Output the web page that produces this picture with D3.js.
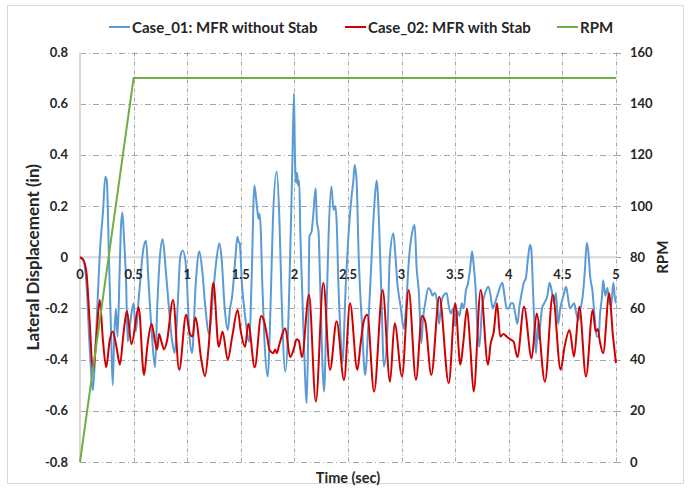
<!DOCTYPE html>
<html>
<head>
<meta charset="utf-8">
<script src="https://cdn.jsdelivr.net/npm/d3@7"></script>
<style>
  html, body { margin: 0; padding: 0; background: #fff; }
  svg { display: block; }
  text { font-family: Lato, "Open Sans", sans-serif; font-weight: bold; fill: #262626; }
</style>
</head>
<body>
<svg id="chart" width="689" height="489"></svg>
<script>
// Lateral displacement of the two runs and the shaft speed ramp.
const seriesNames = ["Case_01: MFR without Stab", "Case_02: MFR with Stab", "RPM"];
const seriesColors = ["#5B9BD5", "#D00000", "#70AD47"];

// Case_01: MFR without Stab (time in sec, displacement in in)
const case01Time = [
  0, 0.03, 0.06, 0.09, 0.121, 0.15, 0.19, 0.215, 0.236, 0.25, 0.27, 0.29, 0.305, 0.32, 0.335, 0.35, 0.37, 0.38, 0.395, 0.41,
  0.43, 0.445, 0.47, 0.5, 0.52, 0.55, 0.59, 0.616, 0.64, 0.67, 0.70, 0.72, 0.745, 0.771, 0.8, 0.83, 0.86, 0.883, 0.91, 0.935,
  0.958, 0.99, 1.02, 1.045, 1.08, 1.113, 1.14, 1.17, 1.205, 1.24, 1.27, 1.30, 1.32, 1.35, 1.378, 1.4, 1.42, 1.45, 1.468, 1.48,
  1.49, 1.51, 1.54, 1.58, 1.60, 1.627, 1.65, 1.665, 1.675, 1.687, 1.70, 1.72, 1.751, 1.78, 1.80, 1.835, 1.86, 1.88, 1.915, 1.94,
  1.96, 1.98, 1.996, 2.005, 2.015, 2.025, 2.035, 2.045, 2.055, 2.07, 2.09, 2.115, 2.13, 2.14, 2.16, 2.175, 2.198, 2.21, 2.225, 2.24,
  2.26, 2.276, 2.30, 2.32, 2.345, 2.365, 2.38, 2.395, 2.41, 2.43, 2.447, 2.48, 2.51, 2.534, 2.55, 2.562, 2.58, 2.6, 2.63, 2.66,
  2.69, 2.72, 2.745, 2.767, 2.79, 2.81, 2.836, 2.87, 2.89, 2.923, 2.94, 2.96, 2.99, 3.02, 3.04, 3.07, 3.1, 3.122, 3.14, 3.16,
  3.184, 3.20, 3.22, 3.25, 3.27, 3.29, 3.31, 3.33, 3.35, 3.37, 3.39, 3.42, 3.44, 3.46, 3.48, 3.50, 3.52, 3.54, 3.56, 3.58,
  3.60, 3.62, 3.64, 3.657, 3.67, 3.69, 3.71, 3.725, 3.75, 3.78, 3.81, 3.83, 3.85, 3.87, 3.9, 3.94, 3.96, 3.98, 4.0, 4.02,
  4.04, 4.06, 4.08, 4.10, 4.12, 4.14, 4.16, 4.18, 4.198, 4.21, 4.225, 4.24, 4.254, 4.27, 4.28, 4.29, 4.31, 4.33, 4.36, 4.38,
  4.40, 4.42, 4.44, 4.46, 4.48, 4.51, 4.534, 4.55, 4.57, 4.59, 4.61, 4.63, 4.65, 4.67, 4.69, 4.71, 4.727, 4.74, 4.76, 4.78,
  4.80, 4.82, 4.84, 4.85, 4.87, 4.88, 4.90, 4.92, 4.94, 4.955, 4.975, 4.99, 5.0
];
const case01Disp = [
  0, -0.01, -0.1, -0.35, -0.52, -0.3, 0.05, 0.18, 0.315, 0.3, 0.0, -0.3, -0.5, -0.3, -0.2, -0.31, -0.05, 0.1, 0.175, 0.08,
  -0.1, -0.33, -0.25, -0.18, -0.29, -0.15, 0.03, 0.064, -0.1, -0.3, -0.43, -0.2, 0.0, 0.07, -0.05, -0.2, -0.33, -0.375, -0.2, 0.0,
  0.026, -0.04, -0.3, -0.375, -0.1, 0.022, -0.05, -0.2, -0.3, -0.15, -0.02, 0.055, 0.0, -0.2, -0.285, -0.2, -0.15, 0.0, 0.08, 0.06,
  0.055, -0.1, -0.23, -0.33, -0.1, 0.28, 0.2, 0.15, 0.17, 0.1, -0.1, -0.32, -0.466, -0.15, 0.15, 0.335, 0.15, -0.15, -0.447, -0.3,
  0.0, 0.35, 0.64, 0.4, 0.29, 0.33, 0.28, 0.3, 0.1, -0.1, -0.35, -0.57, -0.26, 0.08, 0.1, 0.16, 0.27, 0.14, 0.1, -0.1,
  -0.4, -0.525, -0.2, 0.1, 0.276, 0.185, 0.2, 0.13, -0.1, -0.3, -0.414, -0.1, 0.12, 0.24, 0.3, 0.36, 0.3, 0.0, -0.26, -0.46,
  -0.26, 0.0, 0.2, 0.30, 0.13, -0.13, -0.427, -0.26, 0.0, 0.093, 0.02, -0.1, -0.19, -0.28, -0.2, 0.0, 0.1, 0.126, -0.04, -0.13,
  -0.336, -0.24, -0.18, -0.12, -0.13, -0.15, -0.14, -0.17, -0.26, -0.18, -0.15, -0.14, -0.19, -0.22, -0.2, -0.27, -0.21, -0.23, -0.18, -0.2,
  -0.13, -0.1, -0.04, 0.022, -0.02, -0.12, -0.3, -0.35, -0.2, -0.14, -0.115, -0.15, -0.2, -0.18, -0.14, -0.1, -0.15, -0.2, -0.2, -0.18,
  -0.18, -0.22, -0.26, -0.19, -0.14, -0.1, -0.08, 0.0, 0.048, 0.03, -0.12, -0.28, -0.375, -0.26, -0.32, -0.28, -0.2, -0.18, -0.15, -0.1,
  -0.13, -0.18, -0.14, -0.26, -0.2, -0.15, -0.115, -0.15, -0.2, -0.19, -0.18, -0.22, -0.245, -0.2, -0.15, -0.05, 0.057, 0.03, -0.08, -0.13,
  -0.23, -0.31, -0.31, -0.23, -0.15, -0.09, -0.15, -0.12, -0.18, -0.19, -0.1, -0.16, -0.18
];

// Case_02: MFR with Stab (time in sec, displacement in in)
const case02Time = [
  0, 0.03, 0.06, 0.09, 0.121, 0.15, 0.184, 0.215, 0.245, 0.275, 0.305, 0.34, 0.372, 0.405, 0.438, 0.48, 0.547, 0.597, 0.63, 0.668,
  0.7, 0.72, 0.737, 0.76, 0.785, 0.81, 0.868, 0.925, 0.99, 1.026, 1.05, 1.075, 1.135, 1.166, 1.2, 1.244, 1.294, 1.33, 1.378, 1.42,
  1.47, 1.5, 1.54, 1.57, 1.63, 1.69, 1.71, 1.75, 1.766, 1.803, 1.82, 1.835, 1.86, 1.915, 1.96, 2.0, 2.02, 2.04, 2.07, 2.136,
  2.2, 2.27, 2.332, 2.394, 2.463, 2.519, 2.587, 2.618, 2.65, 2.68, 2.743, 2.823, 2.892, 2.935, 3.004, 3.066, 3.134, 3.19, 3.22, 3.277,
  3.352, 3.44, 3.50, 3.548, 3.575, 3.61, 3.641, 3.672, 3.738, 3.806, 3.83, 3.86, 3.89, 3.92, 3.95, 3.98, 4.011, 4.045, 4.08, 4.142,
  4.213, 4.26, 4.337, 4.41, 4.484, 4.52, 4.567, 4.608, 4.658, 4.72, 4.783, 4.81, 4.83, 4.85, 4.88, 4.937, 4.97, 5.0
];
const case02Disp = [
  0, -0.01, -0.06, -0.25, -0.447, -0.33, -0.167, -0.33, -0.43, -0.33, -0.29, -0.35, -0.42, -0.3, -0.21, -0.34, -0.195, -0.46, -0.34, -0.26,
  -0.33, -0.36, -0.3, -0.33, -0.36, -0.33, -0.167, -0.44, -0.225, -0.3, -0.31, -0.235, -0.41, -0.465, -0.35, -0.1, -0.35, -0.29, -0.4, -0.31,
  -0.206, -0.29, -0.35, -0.26, -0.43, -0.23, -0.24, -0.32, -0.36, -0.375, -0.36, -0.375, -0.34, -0.277, -0.39, -0.35, -0.32, -0.325, -0.39, -0.147,
  -0.564, -0.1, -0.44, -0.25, -0.48, -0.18, -0.44, -0.336, -0.245, -0.225, -0.525, -0.128, -0.486, -0.258, -0.466, -0.128, -0.479, -0.23, -0.25, -0.46,
  -0.154, -0.492, -0.18, -0.42, -0.336, -0.2, -0.35, -0.525, -0.128, -0.42, -0.34, -0.29, -0.18, -0.31, -0.3, -0.31, -0.32, -0.33, -0.39, -0.193,
  -0.395, -0.22, -0.486, -0.147, -0.44, -0.35, -0.284, -0.388, -0.193, -0.466, -0.206, -0.29, -0.28, -0.33, -0.375, -0.141, -0.3, -0.414
];

// Shaft speed: linear ramp to 150 RPM, then constant
const rpmTime = [0, 0.5, 5];
const rpmValue = [0, 150, 150];

// Axis ticks
const xTicks = [0, 0.5, 1, 1.5, 2, 2.5, 3, 3.5, 4, 4.5, 5];
const xTickLabels = ["0", "0.5", "1", "1.5", "2", "2.5", "3", "3.5", "4", "4.5", "5"];
const yTicks = [0.8, 0.6, 0.4, 0.2, 0, -0.2, -0.4, -0.6, -0.8];
const yTickLabels = ["0.8", "0.6", "0.4", "0.2", "0", "-0.2", "-0.4", "-0.6", "-0.8"];
const rpmTicks = [160, 140, 120, 100, 80, 60, 40, 20, 0];
const rpmTickLabels = ["160", "140", "120", "100", "80", "60", "40", "20", "0"];

const svg = d3.select("#chart");
const plot = { left: 80, right: 616, top: 52.5, bottom: 462 };

// outer chart frame
svg.append("rect")
  .attr("x", 7.5).attr("y", 5.5).attr("width", 676).attr("height", 478)
  .attr("fill", "#fff").attr("stroke", "#d9d9d9").attr("stroke-width", 1);

const x = d3.scaleLinear().domain([0, 5]).range([plot.left, plot.right]);
const y = d3.scaleLinear().domain([-0.8, 0.8]).range([plot.bottom, plot.top]);
const yR = d3.scaleLinear().domain([0, 160]).range([plot.bottom, plot.top]);

const gridColor = "#a6a6a6";

// horizontal grid
svg.append("g").selectAll("line").data(yTicks.filter(d => d !== 0)).join("line")
  .attr("x1", plot.left).attr("x2", plot.right)
  .attr("y1", d => Math.round(y(d)) + 0.5).attr("y2", d => Math.round(y(d)) + 0.5)
  .attr("stroke", gridColor).attr("stroke-width", 1).attr("stroke-dasharray", "6,3,1,3");

// vertical grid
svg.append("g").selectAll("line").data(xTicks.filter(d => d !== 0)).join("line")
  .attr("x1", d => Math.round(x(d)) + 0.5).attr("x2", d => Math.round(x(d)) + 0.5)
  .attr("y1", plot.top).attr("y2", plot.bottom)
  .attr("stroke", gridColor).attr("stroke-width", 1).attr("stroke-dasharray", "4,2,1,2");

// right axis ticks
svg.append("g").selectAll("line").data(rpmTicks).join("line")
  .attr("x1", plot.right).attr("x2", plot.right + 5)
  .attr("y1", d => Math.round(yR(d)) + 0.5).attr("y2", d => Math.round(yR(d)) + 0.5)
  .attr("stroke", gridColor).attr("stroke-width", 1);

// zero line and left axis
svg.append("line")
  .attr("x1", plot.left).attr("x2", plot.right)
  .attr("y1", y(0)).attr("y2", y(0))
  .attr("stroke", "#d9d9d9").attr("stroke-width", 2);
svg.append("line")
  .attr("x1", plot.left).attr("x2", plot.left)
  .attr("y1", plot.top).attr("y2", plot.bottom)
  .attr("stroke", "#d9d9d9").attr("stroke-width", 2);

// series
const lineDisp = d3.line().x(d => x(d[0])).y(d => y(d[1])).curve(d3.curveMonotoneX);
const lineRpm = d3.line().x(d => x(d[0])).y(d => yR(d[1]));

svg.append("path")
  .datum(d3.zip(case01Time, case01Disp))
  .attr("d", lineDisp).attr("fill", "none")
  .attr("stroke", seriesColors[0]).attr("stroke-width", 2).attr("stroke-linejoin", "round");
svg.append("path")
  .datum(d3.zip(case02Time, case02Disp))
  .attr("d", lineDisp).attr("fill", "none")
  .attr("stroke", seriesColors[1]).attr("stroke-width", 2).attr("stroke-linejoin", "round");
svg.append("path")
  .datum(d3.zip(rpmTime, rpmValue))
  .attr("d", lineRpm).attr("fill", "none")
  .attr("stroke", seriesColors[2]).attr("stroke-width", 2);

// tick labels
svg.append("g").selectAll("text").data(xTicks).join("text")
  .attr("x", d => x(d)).attr("y", y(0) + 22)
  .attr("text-anchor", "middle").attr("font-size", 13)
  .text((d, i) => xTickLabels[i]);
svg.append("g").selectAll("text").data(yTicks).join("text")
  .attr("x", plot.left - 12).attr("y", d => y(d) + 4.5)
  .attr("text-anchor", "end").attr("font-size", 13)
  .text((d, i) => yTickLabels[i]);
svg.append("g").selectAll("text").data(rpmTicks).join("text")
  .attr("x", plot.right + 14).attr("y", d => yR(d) + 4.5)
  .attr("text-anchor", "start").attr("font-size", 13)
  .text((d, i) => rpmTickLabels[i]);

// axis titles
svg.append("text")
  .attr("transform", `translate(39,${(plot.top + plot.bottom) / 2}) rotate(-90)`)
  .attr("text-anchor", "middle").attr("font-size", 17)
  .text("Lateral Displacement (in)");
svg.append("text")
  .attr("transform", `translate(668,${(plot.top + plot.bottom) / 2}) rotate(-90)`)
  .attr("text-anchor", "middle").attr("font-size", 15)
  .text("RPM");
svg.append("text")
  .attr("x", (plot.left + plot.right) / 2).attr("y", 483)
  .attr("text-anchor", "middle").attr("font-size", 14.5)
  .text("Time (sec)");

// legend
const legendX = [109, 345, 557];
const lg = svg.append("g").selectAll("g").data(seriesNames).join("g")
  .attr("transform", (d, i) => `translate(${legendX[i]},27)`);
lg.append("line").attr("x1", 0).attr("x2", 21).attr("y1", 0).attr("y2", 0)
  .attr("stroke", (d, i) => seriesColors[i]).attr("stroke-width", 2);
lg.append("text").attr("x", 23).attr("y", 5.5).attr("font-size", 15).text(d => d);
</script>
</body>
</html>
